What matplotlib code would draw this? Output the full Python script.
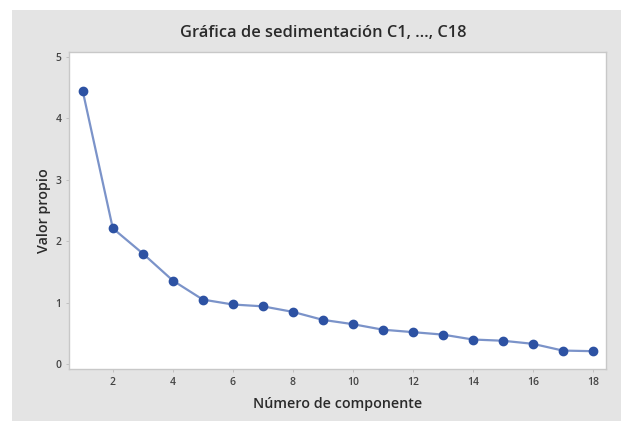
import numpy as np
import matplotlib.pyplot as plt
from matplotlib.patches import Rectangle

# eigenvalues
componentes = np.arange(1, 19)
valor_propio = [4.44, 2.21, 1.80, 1.36, 1.05, 0.97, 0.94, 0.85, 0.72,
                0.65, 0.56, 0.52, 0.48, 0.40, 0.38, 0.33, 0.22, 0.21]
xticks = [2, 4, 6, 8, 10, 12, 14, 16, 18]
yticks = [0, 1, 2, 3, 4, 5]

plt.rcParams['font.family'] = ['Open Sans', 'DejaVu Sans']

fig = plt.figure(figsize=(6.21, 4.21), dpi=100)
fig.patch.set_facecolor('white')
# grey panel behind the plot
fig.patches.append(Rectangle((12/621, 0), 609/621, 411/421,
                             transform=fig.transFigure, facecolor='#e4e4e4',
                             edgecolor='none', zorder=-1))

ax = fig.add_axes([69/621, 1 - 369/421, 537/621, 317/421])
ax.set_zorder(1)
ax.set_facecolor('white')
ax.plot(componentes, valor_propio, '-', color='#7b93c9', lw=1.6, zorder=2)
ax.plot(componentes, valor_propio, 'o', color='#2d52a3', ms=6, zorder=3)

ax.set_xlim(0.54, 18.44)
ax.set_ylim(-0.08, 5.08)
ax.set_xticks(xticks)
ax.set_yticks(yticks)
ax.tick_params(labelsize=7.5, colors='#bbbbbb', labelcolor='#444444',
               length=2.5, width=0.6, pad=3)
for lbl in ax.get_xticklabels() + ax.get_yticklabels():
    lbl.set_fontweight('semibold')
for s in ax.spines.values():
    s.set_color('#c8c8c8')
    s.set_linewidth(1.0)

ax.set_xlabel('Número de componente', fontsize=10.3, color='#2a2a2a',
              fontweight='semibold', labelpad=7)
ax.set_ylabel('Valor propio', fontsize=10.3, color='#2a2a2a',
              fontweight='semibold', labelpad=3)
fig.text(323/621, 1 - 33/421, 'Gráfica de sedimentación C1, ..., C18',
         ha='center', va='center', fontsize=11.8, color='#2a2a2a',
         fontweight='semibold')

fig.savefig('out.png', dpi=100)
